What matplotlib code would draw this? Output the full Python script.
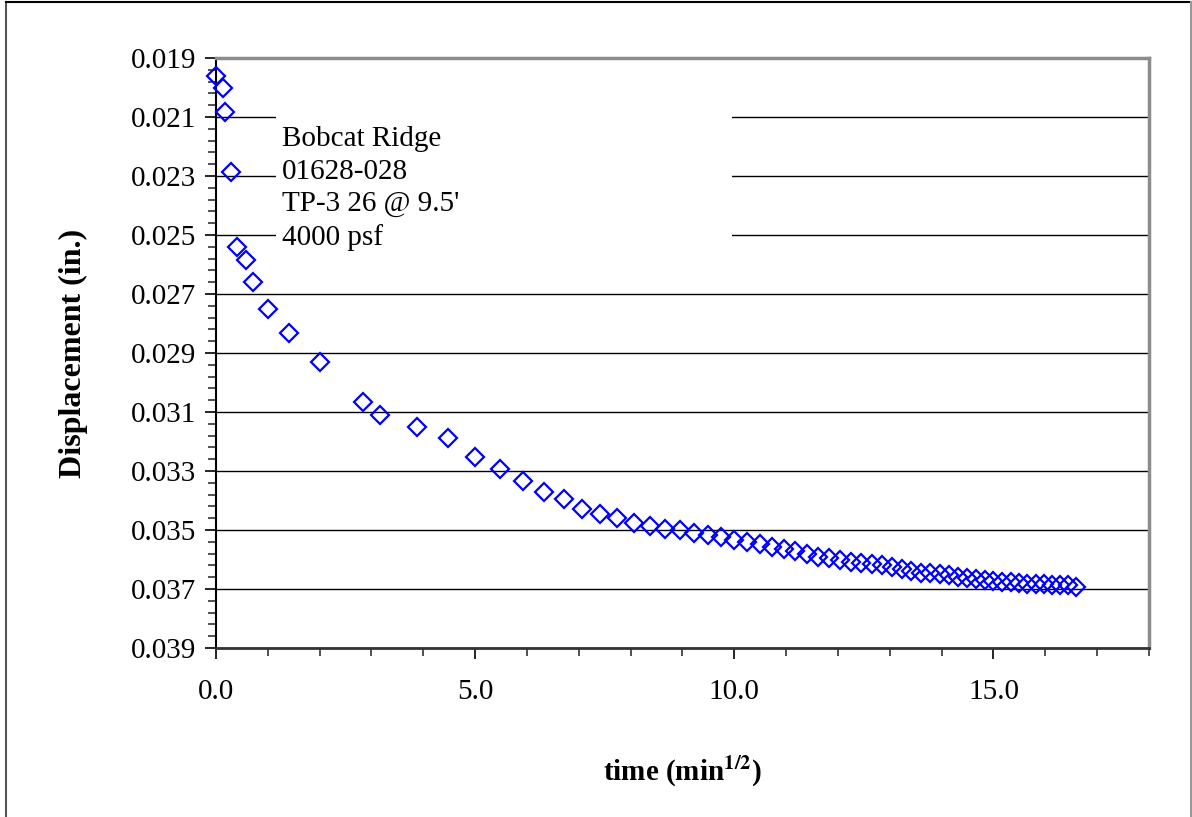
import matplotlib
matplotlib.use("Agg")
import matplotlib.pyplot as plt
import numpy as np
from matplotlib.lines import Line2D
from matplotlib.patches import Rectangle
from matplotlib.ticker import FormatStrFormatter

plt.rcParams['font.family'] = ['Liberation Serif', 'DejaVu Serif']
plt.rcParams['mathtext.fontset'] = 'stix'

# elapsed time of each reading, minutes
time_min = [0, 1/60, 2/60, 5/60, 10/60, 20/60, 30/60, 1, 2, 4, 8, 10, 15, 20, 25,
            30, 35, 40, 45, 50, 55, 60, 65, 70, 75, 80, 85, 90, 95, 100,
            105, 110, 115, 120, 125, 130, 135, 140, 145, 150, 155, 160, 165,
            170, 175, 180, 185, 190, 195, 200, 205, 210, 215, 220, 225, 230,
            235, 240, 245, 250, 255, 260, 265, 270, 275]

# dial reading, inches
displacement = [0.01961, 0.02002, 0.02083, 0.02286, 0.02541, 0.02585, 0.02659,
                0.02751, 0.02832, 0.02931, 0.03066, 0.03110, 0.03151, 0.03188,
                0.03253, 0.03293, 0.03334, 0.03371, 0.03396, 0.03430, 0.03446,
                0.03460, 0.03477, 0.03486, 0.03497, 0.03500, 0.03511, 0.03518,
                0.03525, 0.03534, 0.03540, 0.03549, 0.03557, 0.03564, 0.03570,
                0.03582, 0.03591, 0.03596, 0.03602, 0.03608, 0.03613, 0.03616,
                0.03619, 0.03626, 0.03633, 0.03638, 0.03645, 0.03647, 0.03649,
                0.03652, 0.03658, 0.03664, 0.03667, 0.03670, 0.03672, 0.03675,
                0.03676, 0.03681, 0.03683, 0.03683, 0.03683, 0.03686, 0.03686,
                0.03686, 0.03692]

y_major = [0.019, 0.021, 0.023, 0.025, 0.027, 0.029, 0.031, 0.033, 0.035,
           0.037, 0.039]
x_major = [0, 5, 10, 15]

label_lines = ["Bobcat Ridge", "01628-028", "TP-3 26 @ 9.5'", "4000 psf"]

sqrt_time = np.sqrt(time_min)

fig = plt.figure(figsize=(11.92, 8.17), dpi=100)
ax = fig.add_axes([0.1812, 0.2069, 0.7827, 0.7221])

ax.plot(sqrt_time, displacement, linestyle='none', marker='D', markersize=9,
        markerfacecolor='none', markeredgecolor='#0000ff', markeredgewidth=1.6,
        zorder=5, clip_on=False)

ax.set_xlim(0, 18)
ax.set_ylim(0.039, 0.019)
ax.set_xticks(x_major)
ax.set_xticks(np.arange(0, 18.5, 1), minor=True)
ax.set_yticks(y_major)
ax.set_yticks(np.linspace(0.019, 0.039, 51), minor=True)
ax.xaxis.set_major_formatter(FormatStrFormatter('%.1f'))
ax.yaxis.set_major_formatter(FormatStrFormatter('%.3f'))

ax.yaxis.grid(True, which='major', color='black', linewidth=1.0, zorder=1)
ax.set_axisbelow(True)

ax.tick_params(axis='both', which='major', direction='out', length=8, width=1.2,
               labelsize=21, color='black', pad=6)
ax.tick_params(axis='both', which='minor', direction='out', length=6, width=1.2,
               color='#333333')
ax.tick_params(axis='x', which='major', pad=14)

ax.spines['left'].set_color('black')
ax.spines['left'].set_linewidth(1.5)
ax.spines['bottom'].set_color('#333333')
ax.spines['bottom'].set_linewidth(2)
for side in ['top', 'right']:
    ax.spines[side].set_color('#8c8c8c')
    ax.spines[side].set_linewidth(2.5)

# text box that hides the grid lines behind it
ax.add_patch(Rectangle((0.0643, 0.625), 0.489, 0.305, transform=ax.transAxes,
                       facecolor='white', edgecolor='none', zorder=2))
ax.text(0.0707, 0.884, "\n".join(label_lines), transform=ax.transAxes,
        fontsize=21, va='top', ha='left', linespacing=1.32, zorder=3)

ax.set_ylabel('Displacement (in.)', fontsize=23, fontweight='bold', labelpad=31)
ax.set_xlabel(r'time (min$^{\mathbf{1/2}}$)', fontsize=21, fontweight='bold',
              labelpad=36)

# outer chart frame
fig.add_artist(Line2D([0.005, 0.005], [0, 0.997], color='#555555', lw=1.5))
fig.add_artist(Line2D([0.005, 0.999], [0.997, 0.997], color='black', lw=1.5))
fig.add_artist(Line2D([0.999, 0.999], [0, 0.997], color='#999999', lw=1.5))

fig.savefig('out.png', dpi=100, facecolor='white')
